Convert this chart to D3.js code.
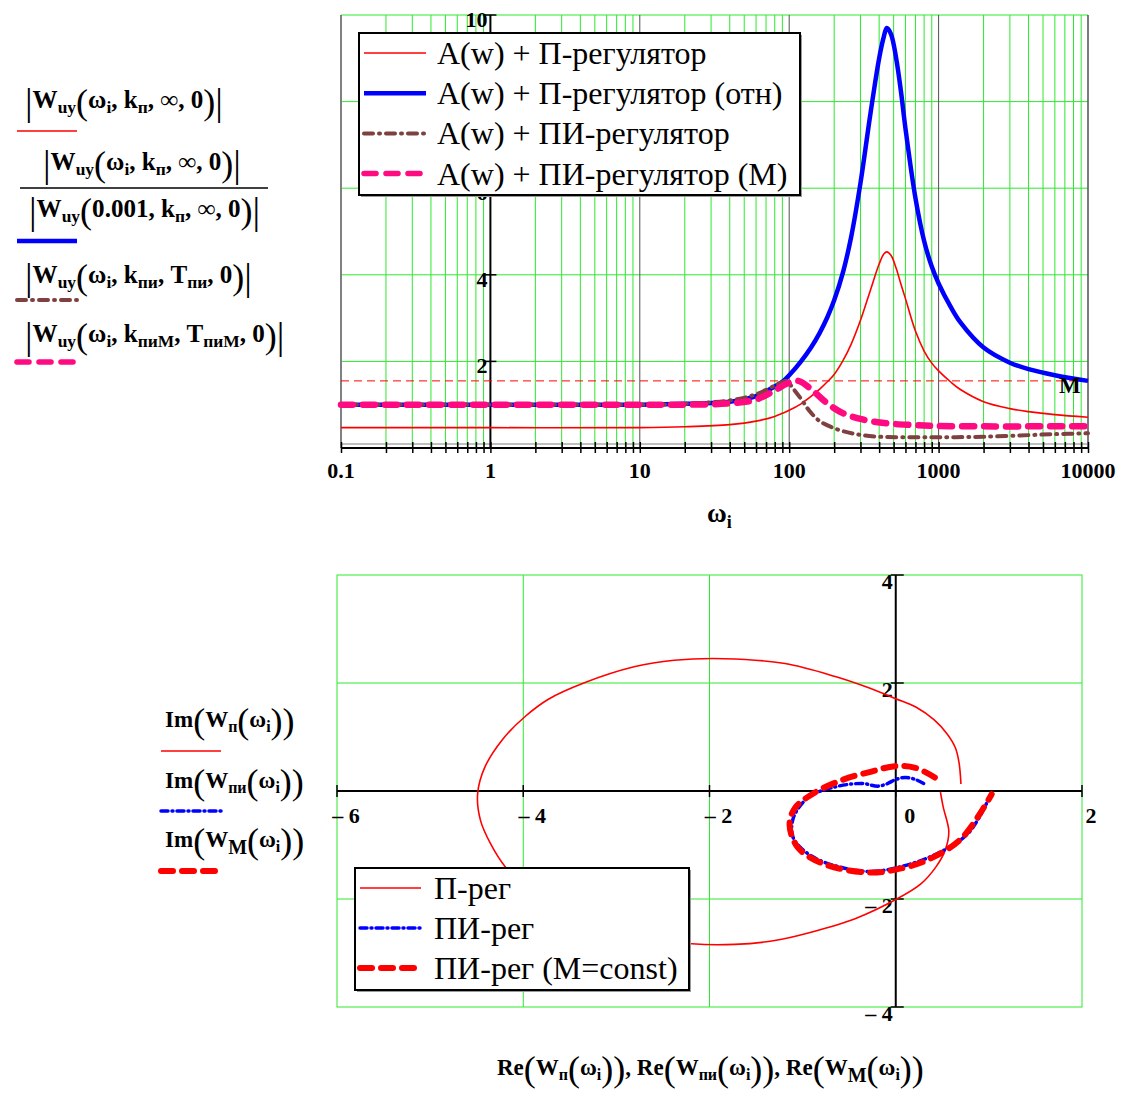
<!DOCTYPE html>
<html>
<head>
<meta charset="utf-8">
<style>
body { margin: 0; background: #fff; }
svg { display: block; background: #fff; }
svg text { font-family: 'Liberation Serif', 'Times New Roman', serif; fill: #000; }
.grid { stroke: #2ee82e; stroke-width: 1; }
.dec { stroke: #505050; stroke-width: 1; }
</style>
</head>
<body>
<div id="container"></div>
<script src="https://d3js.org/d3.v7.min.js"></script>
<script>

// ---- top chart data: amplitude curves ----
const omegaP = [0.1, 1, 10, 20, 40, 60, 80, 90, 100, 120, 140, 160, 180, 200, 230, 260, 300, 350, 400, 430, 450, 480, 520, 560, 600, 700, 800, 900, 1000, 1200, 1400, 2000, 3000, 4000, 6000, 10000];
const ampP    = [0.47, 0.47, 0.47, 0.49, 0.54, 0.62, 0.73, 0.80, 0.87, 1.02, 1.19, 1.36, 1.53, 1.70, 2.03, 2.40, 2.95, 3.65, 4.25, 4.48, 4.53, 4.45, 4.15, 3.78, 3.45, 2.70, 2.24, 1.96, 1.78, 1.53, 1.35, 1.07, 0.91, 0.84, 0.77, 0.71];
const ampPrel = [1.00, 1.00, 1.00, 1.02, 1.07, 1.20, 1.42, 1.53, 1.68, 2.00, 2.32, 2.66, 3.02, 3.41, 4.08, 4.88, 6.12, 7.73, 9.00, 9.50, 9.70, 9.56, 9.00, 8.23, 7.38, 5.77, 4.78, 4.19, 3.80, 3.27, 2.90, 2.32, 1.97, 1.82, 1.68, 1.55];

const omegaPI = [0.1, 1, 10, 20, 40, 60, 80, 90, 96, 107, 122, 135, 160, 210, 280, 400, 600, 900, 1300, 2000, 3500, 6000, 10000];
const ampPI   = [1.0, 1.0, 1.0, 1.02, 1.10, 1.24, 1.44, 1.52, 1.55, 1.36, 1.10, 0.88, 0.62, 0.43, 0.32, 0.26, 0.25, 0.25, 0.25, 0.26, 0.29, 0.32, 0.34];

const omegaM = [0.1, 1, 10, 20, 40, 60, 80, 97, 115, 142, 180, 230, 310, 450, 680, 920, 2000, 5000, 10000];
const ampM   = [1.0, 1.0, 1.0, 1.0, 1.03, 1.12, 1.33, 1.49, 1.55, 1.34, 1.03, 0.80, 0.66, 0.57, 0.53, 0.51, 0.50, 0.50, 0.50];

const levelM = 1.55;
const topLegend = ['A(w) + П-регулятор', 'A(w) + П-регулятор (отн)', 'A(w) + ПИ-регулятор', 'A(w) + ПИ-регулятор (M)'];
const decades = [0.1, 1, 10, 100, 1000, 10000];
const yTicksTop = [2, 4, 6, 8, 10];

// ---- bottom chart data: Nyquist curves (Re, Im) ----
const reP = [0.70, 0.68, 0.64, 0.55, 0.41, 0.22, 0, -0.32, -0.65, -1.19, -1.84, -2.38, -2.81, -3.35, -3.73, -3.98, -4.22, -4.41, -4.49, -4.46, -4.35, -4.19, -3.90, -3.45, -2.85, -2.19, -1.73, -1.30, -0.92, -0.43, 0, 0.27, 0.43, 0.53, 0.57, 0.51, 0.48];
const imP = [0.13, 0.52, 0.80, 1.06, 1.32, 1.55, 1.71, 1.93, 2.12, 2.36, 2.45, 2.42, 2.30, 2.00, 1.70, 1.38, 0.96, 0.45, -0.05, -0.54, -0.98, -1.41, -1.88, -2.33, -2.68, -2.83, -2.84, -2.77, -2.62, -2.36, -2.01, -1.72, -1.41, -1.10, -0.75, -0.30, -0.02];

const rePI = [0.30, 0.20, 0.10, 0.01, -0.10, -0.19, -0.37, -0.69, -0.94, -1.10, -1.10, -0.90, -0.55, -0.26, 0.06, 0.42, 0.78, 1.03];
const imPI = [0.14, 0.22, 0.25, 0.22, 0.13, 0.09, 0.14, 0.06, -0.12, -0.50, -0.87, -1.21, -1.43, -1.49, -1.40, -1.18, -0.78, -0.03];

const reM = [0.42, 0.21, -0.01, -0.26, -0.55, -0.87, -1.08, -1.14, -1.05, -0.76, -0.29, -0.01, 0.35, 0.71, 1.03];
const imM = [0.25, 0.43, 0.46, 0.36, 0.22, -0.03, -0.31, -0.62, -1.05, -1.36, -1.51, -1.46, -1.27, -0.87, -0.06];

const botLegend = ['П-рег', 'ПИ-рег', 'ПИ-рег (M=const)'];
const xTicksBot = [-6, -4, -2, 0, 2];
const yTicksBot = [4, 2, -2, -4];

const width = 1125, height = 1093;

const svg = d3.select('#container').append('svg')
    .attr('width', width).attr('height', height);

// rich text helper: parts = [[text, kind], ...], k scales the letters
const STY = {
  n: {size: 23, w: 'bold', dy: 0},
  s: {size: 16, w: 'bold', dy: 5},
  S: {size: 20, w: 'bold', dy: 7},
  p: {size: 36, w: 'normal', dy: 6},
  b: {size: 38, w: 'normal', dy: 7}
};
function rich(sel, x, y, parts, k = 1) {
  const t = sel.append('text').attr('x', x).attr('y', y).attr('xml:space', 'preserve');
  parts.forEach(([s, kind]) => {
    const st = STY[kind];
    const f = (kind === 'p' || kind === 'b') ? 1 : k;
    t.append('tspan').attr('y', y + st.dy)
      .style('font-size', (st.size * f) + 'px').style('font-weight', st.w).text(s);
  });
  return t;
}

// ================= TOP CHART =================
const xTop = d3.scaleLog().domain([0.1, 10000]).range([341, 1088]);
const yTop = d3.scaleLinear().domain([0, 10]).range([448, 15]);

const minor = [];
decades.slice(0, -1).forEach(d => { for (let k = 2; k <= 9; k++) minor.push(d * k); });

const topG = svg.append('g');
topG.selectAll('.vgrid').data(minor).enter().append('line').attr('class', 'grid')
  .attr('x1', d => xTop(d)).attr('x2', d => xTop(d)).attr('y1', yTop(10)).attr('y2', yTop(0));
topG.selectAll('.hgrid').data(yTicksTop).enter().append('line').attr('class', 'grid')
  .attr('x1', xTop(0.1)).attr('x2', xTop(10000)).attr('y1', d => yTop(d)).attr('y2', d => yTop(d));
topG.selectAll('.dgrid').data([10, 100, 1000]).enter().append('line').attr('class', 'dec')
  .attr('x1', d => xTop(d)).attr('x2', d => xTop(d)).attr('y1', yTop(10)).attr('y2', yTop(0));
// frame sides
topG.append('line').attr('x1', xTop(0.1)).attr('x2', xTop(0.1)).attr('y1', yTop(10)).attr('y2', yTop(0))
  .attr('stroke', '#808080').attr('stroke-width', 2);
topG.append('line').attr('x1', xTop(10000)).attr('x2', xTop(10000)).attr('y1', yTop(10)).attr('y2', yTop(0))
  .attr('stroke', '#505050').attr('stroke-width', 1.5);
topG.append('line').attr('x1', xTop(0.1)).attr('x2', xTop(10000)).attr('y1', yTop(0) - 4).attr('y2', yTop(0) - 4)
  .attr('stroke', '#808080').attr('stroke-width', 1);

// x axis with minor ticks
const xAxisTop = d3.axisBottom(xTop).tickValues(decades.concat(minor)).tickSize(11).tickFormat('');
topG.append('g').attr('transform', `translate(0,${yTop(0) - 6})`).call(xAxisTop)
  .call(g => g.select('.domain').remove())
  .call(g => g.selectAll('.tick line').attr('stroke', '#000').attr('stroke-width', 1.5));
topG.append('line').attr('x1', xTop(0.1)).attr('x2', xTop(10000)).attr('y1', yTop(0)).attr('y2', yTop(0))
  .attr('stroke', '#000').attr('stroke-width', 2);
topG.selectAll('.xlab').data(decades).enter().append('text')
  .attr('x', d => xTop(d)).attr('y', 478).attr('text-anchor', 'middle')
  .style('font-size', '22px').style('font-weight', 'bold').text(d => String(d));

// y axis at omega = 1
topG.append('line').attr('x1', xTop(1)).attr('x2', xTop(1)).attr('y1', yTop(10)).attr('y2', yTop(0))
  .attr('stroke', '#000').attr('stroke-width', 2);
topG.selectAll('.ytick').data(yTicksTop).enter().append('line')
  .attr('x1', xTop(1) - 6).attr('x2', xTop(1) + 6).attr('y1', d => yTop(d)).attr('y2', d => yTop(d))
  .attr('stroke', '#000').attr('stroke-width', 1.5);
// the label for 8 sits entirely under the legend box, so it is not drawn
topG.selectAll('.ylab').data(yTicksTop.filter(d => d !== 8)).enter().append('text')
  .attr('x', xTop(1) - 3).attr('y', d => yTop(d) + 12).attr('text-anchor', 'end')
  .style('font-size', '22px').style('font-weight', 'bold').text(d => d);

// M level
topG.append('line').attr('x1', xTop(0.1)).attr('x2', xTop(10000)).attr('y1', yTop(levelM)).attr('y2', yTop(levelM))
  .attr('stroke', '#ff0000').attr('stroke-width', 1).attr('stroke-dasharray', '8,5');

const lineTop = d3.line().x(d => xTop(d[0])).y(d => yTop(d[1])).curve(d3.curveCatmullRom.alpha(0.5));
const seriesTop = [
  {w: omegaP, v: ampP, color: '#ff0000', sw: 1.6, dash: null},
  {w: omegaP, v: ampPrel, color: '#0000ff', sw: 4.5, dash: null},
  {w: omegaPI, v: ampPI, color: '#7f4040', sw: 4, dash: '9,6,1,6'},
  {w: omegaM, v: ampM, color: '#ff0a80', sw: 6.5, dash: '12,10'}
];
seriesTop.forEach(s => {
  topG.append('path').datum(d3.zip(s.w, s.v)).attr('d', lineTop)
    .attr('fill', 'none').attr('stroke', s.color).attr('stroke-width', s.sw)
    .attr('stroke-linecap', s.dash ? 'round' : 'butt').attr('stroke-dasharray', s.dash);
});
topG.append('text').attr('x', 1059).attr('y', 393).style('font-size', '23px').style('font-weight', 'bold').text('M');

// legend
const lgT = topG.append('g');
lgT.append('rect').attr('x', 361).attr('y', 35).attr('width', 441).attr('height', 162).attr('fill', '#999');
lgT.append('rect').attr('x', 359).attr('y', 33).attr('width', 441).attr('height', 162)
  .attr('fill', '#fff').attr('stroke', '#000').attr('stroke-width', 2);
topLegend.forEach((name, i) => {
  const s = seriesTop[i], y = 53 + i * 40.2;
  lgT.append('line').attr('x1', 364).attr('x2', 426).attr('y1', y).attr('y2', y)
    .attr('stroke', s.color).attr('stroke-width', Math.min(s.sw, 5.5))
    .attr('stroke-linecap', s.dash ? 'round' : 'butt').attr('stroke-dasharray', s.dash);
  lgT.append('text').attr('x', 437).attr('y', y + 11).style('font-size', '32px').text(name);
});

// x title
const xt = svg.append('text').attr('x', 707).attr('y', 522);
xt.append('tspan').style('font-size', '27px').style('font-weight', 'bold').text('ω');
xt.append('tspan').attr('y', 528).style('font-size', '18px').style('font-weight', 'bold').text('i');

// left expressions (top)
const lab = svg.append('g');
const kL = 1.09;
rich(lab, 25, 108, [['|', 'b'], ['W', 'n'], ['uy', 's'], ['(', 'p'], ['ω', 'n'], ['i', 's'], [', k', 'n'], ['п', 's'], [', ∞, 0', 'n'], [')', 'p'], ['|', 'b']], kL);
rich(lab, 43, 170, [['|', 'b'], ['W', 'n'], ['uy', 's'], ['(', 'p'], ['ω', 'n'], ['i', 's'], [', k', 'n'], ['п', 's'], [', ∞, 0', 'n'], [')', 'p'], ['|', 'b']], kL);
lab.append('line').attr('x1', 20).attr('x2', 268).attr('y1', 188).attr('y2', 188).attr('stroke', '#000').attr('stroke-width', 1.5);
rich(lab, 29, 217, [['|', 'b'], ['W', 'n'], ['uy', 's'], ['(', 'p'], ['0.001, k', 'n'], ['п', 's'], [', ∞, 0', 'n'], [')', 'p'], ['|', 'b']], kL);
rich(lab, 25, 283, [['|', 'b'], ['W', 'n'], ['uy', 's'], ['(', 'p'], ['ω', 'n'], ['i', 's'], [', k', 'n'], ['пи', 's'], [', T', 'n'], ['пи', 's'], [', 0', 'n'], [')', 'p'], ['|', 'b']], kL);
rich(lab, 25, 342, [['|', 'b'], ['W', 'n'], ['uy', 's'], ['(', 'p'], ['ω', 'n'], ['i', 's'], [', k', 'n'], ['пиM', 's'], [', T', 'n'], ['пиM', 's'], [', 0', 'n'], [')', 'p'], ['|', 'b']], kL);
[131, 241, 300, 362].forEach((y, i) => {
  const s = seriesTop[i];
  lab.append('line').attr('x1', 17).attr('x2', 77).attr('y1', y).attr('y2', y)
    .attr('stroke', s.color).attr('stroke-width', Math.min(s.sw, 5.5))
    .attr('stroke-linecap', s.dash ? 'round' : 'butt').attr('stroke-dasharray', s.dash);
});

// ================= BOTTOM CHART =================
const xBot = d3.scaleLinear().domain([-6, 2]).range([337, 1082]);
const yBot = d3.scaleLinear().domain([-4, 4]).range([1007, 575]);
const bot = svg.append('g');

bot.append('rect').attr('x', xBot(-6)).attr('y', yBot(4)).attr('width', xBot(2) - xBot(-6)).attr('height', yBot(-4) - yBot(4))
  .attr('fill', 'none').attr('class', 'grid');
bot.selectAll('.vg').data([-4, -2]).enter().append('line').attr('class', 'grid')
  .attr('x1', d => xBot(d)).attr('x2', d => xBot(d)).attr('y1', yBot(4)).attr('y2', yBot(-4));
bot.selectAll('.hg').data([2, -2]).enter().append('line').attr('class', 'grid')
  .attr('x1', xBot(-6)).attr('x2', xBot(2)).attr('y1', d => yBot(d)).attr('y2', d => yBot(d));

bot.append('line').attr('x1', xBot(-6)).attr('x2', xBot(2)).attr('y1', yBot(0)).attr('y2', yBot(0)).attr('stroke', '#000').attr('stroke-width', 2);
bot.append('line').attr('x1', xBot(0)).attr('x2', xBot(0)).attr('y1', yBot(4)).attr('y2', yBot(-4)).attr('stroke', '#000').attr('stroke-width', 2);
bot.selectAll('.xt').data(xTicksBot).enter().append('line')
  .attr('x1', d => xBot(d)).attr('x2', d => xBot(d)).attr('y1', yBot(0) - 6).attr('y2', yBot(0) + 6)
  .attr('stroke', '#000').attr('stroke-width', 1.5);
bot.selectAll('.yt').data(yTicksBot).enter().append('line')
  .attr('x1', xBot(0) - 5).attr('x2', xBot(0) + 8).attr('y1', d => yBot(d)).attr('y2', d => yBot(d))
  .attr('stroke', '#000').attr('stroke-width', 1.5);
const fmt = d => d < 0 ? '– ' + (-d) : String(d);
bot.selectAll('.xl').data(xTicksBot).enter().append('text')
  .attr('x', d => xBot(d) + (d === 0 ? 14 : 9)).attr('y', 823).attr('text-anchor', 'middle')
  .style('font-size', '22px').style('font-weight', 'bold').text(fmt);
bot.selectAll('.yl').data(yTicksBot).enter().append('text')
  .attr('x', xBot(0) - 3).attr('y', d => yBot(d) + 14).attr('text-anchor', 'end')
  .style('font-size', '22px').style('font-weight', 'bold').text(fmt);

const lineBot = d3.line().x(d => xBot(d[0])).y(d => yBot(d[1])).curve(d3.curveCatmullRom.alpha(0.5));
const seriesBot = [
  {re: reP, im: imP, color: '#ff0000', sw: 1.6, dash: null},
  {re: rePI, im: imPI, color: '#0000ff', sw: 3.5, dash: '7,4,1,4'},
  {re: reM, im: imM, color: '#ff0000', sw: 6, dash: '12,9'}
];
seriesBot.forEach(s => {
  bot.append('path').datum(d3.zip(s.re, s.im)).attr('d', lineBot)
    .attr('fill', 'none').attr('stroke', s.color).attr('stroke-width', s.sw)
    .attr('stroke-linecap', s.dash ? 'round' : 'butt').attr('stroke-dasharray', s.dash);
});

const lgB = bot.append('g');
lgB.append('rect').attr('x', 357).attr('y', 870).attr('width', 334).attr('height', 122).attr('fill', '#999');
lgB.append('rect').attr('x', 355).attr('y', 868).attr('width', 334).attr('height', 122)
  .attr('fill', '#fff').attr('stroke', '#000').attr('stroke-width', 2);
botLegend.forEach((name, i) => {
  const s = seriesBot[i], y = 888 + i * 40;
  lgB.append('line').attr('x1', 360).attr('x2', 421).attr('y1', y).attr('y2', y)
    .attr('stroke', s.color).attr('stroke-width', s.sw)
    .attr('stroke-linecap', s.dash ? 'round' : 'butt').attr('stroke-dasharray', s.dash);
  lgB.append('text').attr('x', 434).attr('y', y + 11).style('font-size', '32px').text(name);
});

// bottom left expressions
rich(svg, 165, 727, [['Im', 'n'], ['(', 'p'], ['W', 'n'], ['п', 's'], ['(', 'p'], ['ω', 'n'], ['i', 's'], [')', 'p'], [')', 'p']]);
rich(svg, 165, 788, [['Im', 'n'], ['(', 'p'], ['W', 'n'], ['пи', 's'], ['(', 'p'], ['ω', 'n'], ['i', 's'], [')', 'p'], [')', 'p']]);
rich(svg, 165, 847, [['Im', 'n'], ['(', 'p'], ['W', 'n'], ['M', 'S'], ['(', 'p'], ['ω', 'n'], ['i', 's'], [')', 'p'], [')', 'p']]);
[751, 811, 871].forEach((y, i) => {
  const s = seriesBot[i];
  svg.append('line').attr('x1', 161).attr('x2', 221).attr('y1', y).attr('y2', y)
    .attr('stroke', s.color).attr('stroke-width', s.sw)
    .attr('stroke-linecap', s.dash ? 'round' : 'butt').attr('stroke-dasharray', s.dash);
});
rich(svg, 497, 1075, [['Re', 'n'], ['(', 'p'], ['W', 'n'], ['п', 's'], ['(', 'p'], ['ω', 'n'], ['i', 's'], [')', 'p'], [')', 'p'], [', ', 'n'],
  ['Re', 'n'], ['(', 'p'], ['W', 'n'], ['пи', 's'], ['(', 'p'], ['ω', 'n'], ['i', 's'], [')', 'p'], [')', 'p'], [', ', 'n'],
  ['Re', 'n'], ['(', 'p'], ['W', 'n'], ['M', 'S'], ['(', 'p'], ['ω', 'n'], ['i', 's'], [')', 'p'], [')', 'p']]);

</script>
</body>
</html>
